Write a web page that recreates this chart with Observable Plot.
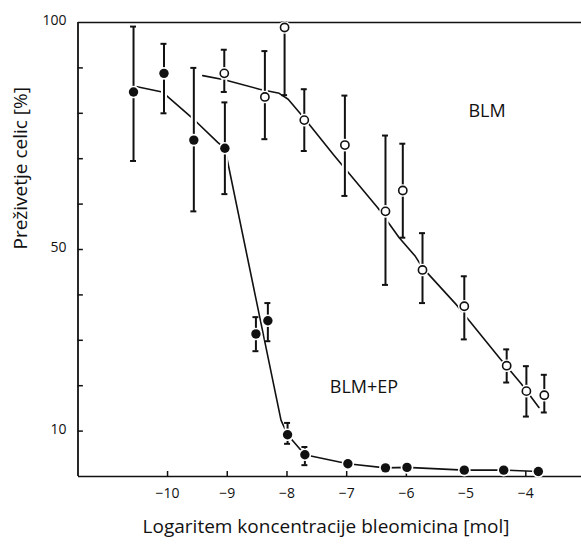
<!DOCTYPE html>
<html>
<head>
<meta charset="utf-8">
<script src="https://cdn.jsdelivr.net/npm/d3@7"></script>
<script src="https://cdn.jsdelivr.net/npm/@observablehq/plot@0.6"></script>
<style>
  html, body { margin: 0; padding: 0; background: #fff; }
</style>
</head>
<body>
<div id="chart"></div>
<script>
// BLM+EP (filled markers)
const epX  = [-10.57, -10.06, -9.56, -9.04, -8.52, -8.32, -7.99, -7.70, -6.98, -6.35, -5.99, -5.03, -4.37, -3.79];
const epY  = [84.7, 88.8, 74.1, 72.3, 31.4, 34.3, 9.2, 4.8, 2.8, 1.9, 2.0, 1.4, 1.4, 1.1];
const epHi = [99.1, 95.3, 90.0, 82.4, 35.1, 38.2, 11.8, 6.5, null, null, null, null, null, null];
const epLo = [69.5, 80.0, 58.4, 62.2, 27.6, 29.8, 7.2, 2.5, null, null, null, null, null, null];
// fitted curve for BLM+EP
const epFitX = [-10.57, -10.09, -9.58, -9.16, -9.04, -8.10, -7.99, -7.70, -6.98, -6.35, -5.99, -5.03, -4.37, -3.79];
const epFitY = [86.0, 84.7, 78.9, 73.6, 72.3, 12.4, 9.2, 4.8, 2.8, 1.9, 2.0, 1.4, 1.4, 1.1];

// BLM (open markers)
const blmX  = [-9.05, -8.37, -8.04, -7.71, -7.03, -6.35, -6.06, -5.73, -5.03, -4.32, -3.99, -3.69];
const blmY  = [88.8, 83.6, 98.9, 78.5, 73.0, 58.4, 63.0, 45.5, 37.5, 24.4, 18.8, 17.9];
const blmHi = [94.0, 93.7, 100, 85.3, 83.9, 75.1, 73.3, 53.6, 44.1, 28.0, 24.3, 22.4];
const blmLo = [84.7, 74.3, 84.0, 71.7, 61.8, 42.2, 52.6, 38.2, 30.2, 20.7, 13.2, 14.1];
// fitted curve for BLM
const blmFitX = [-9.41, -9.05, -8.46, -8.13, -7.98, -7.71, -7.21, -6.48, -6.12, -5.85, -5.73, -5.16, -4.44, -4.07, -3.78];
const blmFitY = [88.3, 87.4, 85.3, 84.4, 83.1, 78.9, 70.7, 59.2, 52.6, 48.5, 46.0, 37.8, 26.1, 20.3, 15.2];

const xTicks = [-10, -9, -8, -7, -6, -5, -4];
const yTicks = [10, 20, 30, 40, 50, 60, 70, 80, 90];
const yLabels = [10, 50, 100];
const xTitle = "Logaritem koncentracije bleomicina [mol]";
const yTitle = "Preživetje celic [%]";
const seriesLabels = [
  {name: "BLM", x: -4.65, y: 80.5},
  {name: "BLM+EP", x: -6.71, y: 19.7}
];

const ep = epX.map((x, i) => ({x, y: epY[i], hi: epHi[i], lo: epLo[i]}));
const blm = blmX.map((x, i) => ({x, y: blmY[i], hi: blmHi[i], lo: blmLo[i]}));
const epFit = epFitX.map((x, i) => ({x, y: epFitY[i]}));
const blmFit = blmFitX.map((x, i) => ({x, y: blmFitY[i]}));
const errs = [...ep, ...blm].filter(d => d.hi != null);
const capW = 0.05;
const ink = "#111";

const chart = Plot.plot({
  width: 581,
  height: 544,
  marginLeft: 78,
  marginRight: 0,
  marginTop: 22,
  marginBottom: 68,
  x: {domain: [-11.5, -3], range: [77.5, 585]},
  y: {domain: [0, 100]},
  style: {fontFamily: "'Open Sans', sans-serif", background: "#fff", color: ink},
  marks: [
    // frame
    Plot.ruleY([0, 100], {stroke: ink, strokeWidth: 1.6}),
    Plot.ruleX([-11.5], {stroke: ink, strokeWidth: 1.8}),
    // inward ticks
    Plot.ruleX(xTicks, {y1: 0, y2: 1.1, stroke: ink, strokeWidth: 1.5}),
    Plot.ruleY(yTicks, {x1: -11.5, x2: -11.41, stroke: ink, strokeWidth: 1.5}),
    // tick labels
    Plot.axisX(xTicks, {tickSize: 0, tickPadding: 12, fontSize: 14, label: null,
      tickFormat: d => "\u2212" + Math.abs(d)}),
    Plot.axisY(yLabels, {tickSize: 0, tickPadding: 12, fontSize: 14, label: null, dy: -1.5}),
    // fitted lines
    Plot.line(epFit, {x: "x", y: "y", stroke: ink, strokeWidth: 1.6}),
    Plot.line(blmFit, {x: "x", y: "y", stroke: ink, strokeWidth: 1.6}),
    // error bar halos
    Plot.ruleX(errs, {x: "x", y1: "lo", y2: "hi", stroke: "#fff", strokeWidth: 6}),
    // error bars
    Plot.ruleX(errs, {x: "x", y1: "lo", y2: "hi", stroke: ink, strokeWidth: 2}),
    Plot.ruleY(errs, {y: "hi", x1: d => d.x - capW, x2: d => d.x + capW, stroke: ink, strokeWidth: 2}),
    Plot.ruleY(errs, {y: "lo", x1: d => d.x - capW, x2: d => d.x + capW, stroke: ink, strokeWidth: 2}),
    // marker halos
    Plot.dot(ep, {x: "x", y: "y", r: 6.3, fill: "#fff"}),
    Plot.dot(blm, {x: "x", y: "y", r: 6.3, fill: "#fff"}),
    // markers
    Plot.dot(ep, {x: "x", y: "y", r: 4.7, fill: ink}),
    Plot.dot(blm, {x: "x", y: "y", r: 4.1, fill: "#fff", stroke: ink, strokeWidth: 1.6}),
    // series labels
    Plot.text(seriesLabels, {x: "x", y: "y", text: "name", fontSize: 18, fill: ink}),
    // axis titles
    Plot.text([xTitle], {frameAnchor: "bottom", dy: 56, dx: -4, fontSize: 19, fill: ink}),
    Plot.text([yTitle], {frameAnchor: "left", dx: -58, rotate: -90, fontSize: 19, fill: ink})
  ]
});
document.getElementById("chart").appendChild(chart);
</script>
</body>
</html>
